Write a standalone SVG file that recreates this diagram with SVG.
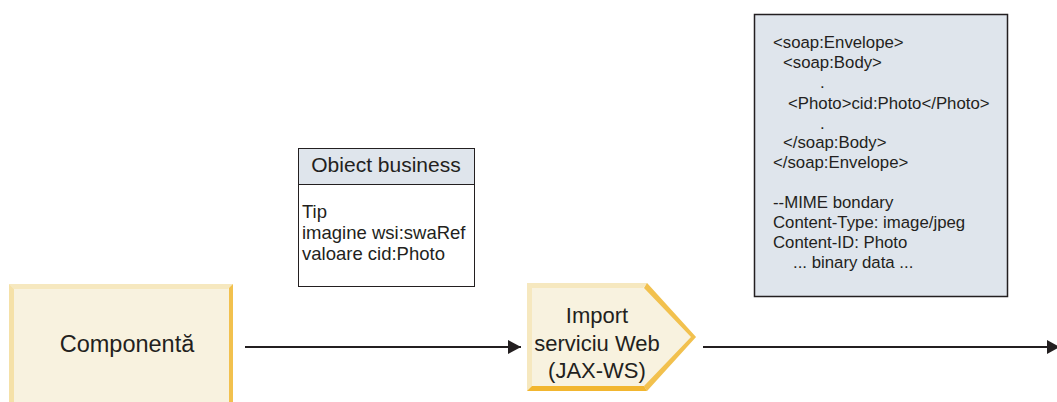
<svg xmlns="http://www.w3.org/2000/svg" width="1057" height="402" viewBox="0 0 1057 402">
<defs>
<style>
text{font-family:"Liberation Sans",Arial,sans-serif;fill:#231f20}
.conn{stroke:#231f20;stroke-width:2.2;fill:none}
.soap{font-size:16.8px}
.bo{font-size:18.5px}
</style>
<marker id="ah" viewBox="0 0 14 14" refX="13" refY="7" markerWidth="14" markerHeight="14" markerUnits="userSpaceOnUse" orient="auto">
<path d="M0,0 L13,7 L0,14 Z" fill="#231f20"/>
</marker>
</defs>
<rect width="1057" height="402" fill="#ffffff"/>

<g id="componenta">
<rect x="9" y="284" width="224" height="130" fill="#f8f2df"/>
<path d="M9,284 L233,284 L228,289 L14,289 Z" fill="#f6e8bf"/>
<path d="M9,284 L14,289 L14,414 L9,414 Z" fill="#f5e1a8"/>
<path d="M233,284 L233,414 L229,414 L229,288 Z" fill="#f2c14e"/>
<text x="127" y="352" font-size="23.5" text-anchor="middle">Componentă</text>
</g>

<g id="obiect-business">
<rect x="298.5" y="148.5" width="176" height="138" fill="#ffffff" stroke="#231f20" stroke-width="1"/>
<rect x="298.5" y="148.5" width="176" height="36" fill="#dfe5ec" stroke="#231f20" stroke-width="1"/>
<text x="386" y="172" font-size="21" text-anchor="middle">Obiect business</text>
<text class="bo" x="302" y="218">Tip</text>
<text class="bo" x="302" y="239">imagine wsi:swaRef</text>
<text class="bo" x="302" y="260">valoare cid:Photo</text>
</g>

<g id="import">
<path d="M527,283 L647,283 L696,337 L647,391 L527,391 Z" fill="#f8f2df"/>
<path d="M527,283 L647,283 L643,288 L532,288 L532,386 L527,391 Z" fill="#f6e8bf"/>
<path d="M647,283 L696,337 L647,391 L644,386 L691,337 L644,288 Z" fill="#f2c14e"/>
<path d="M527,391 L647,391 L644,386 L532,386 Z" fill="#f2b62f"/>
<text x="597" y="323" font-size="22" text-anchor="middle">Import</text>
<text x="597" y="351" font-size="22" text-anchor="middle">serviciu Web</text>
<text x="597" y="378" font-size="22" text-anchor="middle">(JAX-WS)</text>
</g>

<g id="soap-message">
<rect x="754.5" y="14.5" width="253" height="282" fill="#dfe5ec" stroke="#231f20" stroke-width="1.5"/>
<text class="soap" x="773" y="48">&lt;soap:Envelope&gt;</text>
<text class="soap" x="783" y="68">&lt;soap:Body&gt;</text>
<text class="soap" x="820" y="88">.</text>
<text class="soap" x="788" y="109">&lt;Photo&gt;cid:Photo&lt;/Photo&gt;</text>
<text class="soap" x="820" y="129">.</text>
<text class="soap" x="783" y="148">&lt;/soap:Body&gt;</text>
<text class="soap" x="773" y="168">&lt;/soap:Envelope&gt;</text>
<text class="soap" x="773" y="208">--MIME bondary</text>
<text class="soap" x="773" y="228">Content-Type: image/jpeg</text>
<text class="soap" x="773" y="248">Content-ID: Photo</text>
<text class="soap" x="793" y="268">... binary data ...</text>
</g>

<g id="connectors">
<line class="conn" x1="245" y1="347" x2="521" y2="347" marker-end="url(#ah)"/>
<line class="conn" x1="703" y1="347" x2="1060" y2="347" marker-end="url(#ah)"/>
</g>
</svg>
